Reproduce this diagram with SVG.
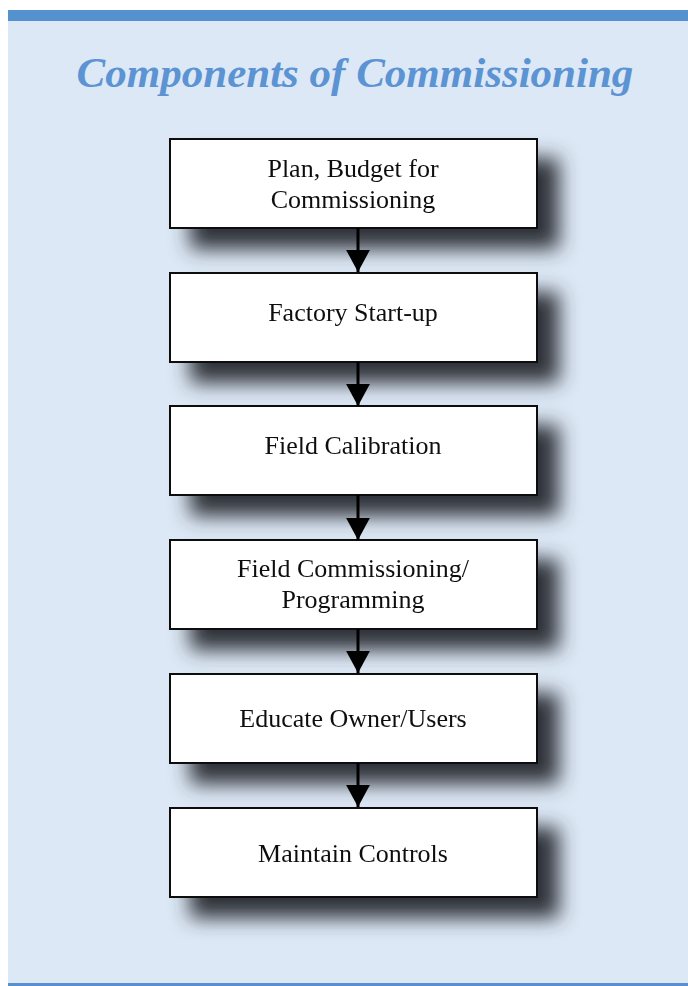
<svg xmlns="http://www.w3.org/2000/svg" width="688" height="986" viewBox="0 0 688 986">
  <style>
    .box { fill: #ffffff; stroke: #111111; stroke-width: 2; }
    .lbl { font-family: "Liberation Serif", "DejaVu Serif", serif; font-size: 26px; fill: #111111; text-anchor: middle; }
    .title { font-family: "Liberation Serif", "DejaVu Serif", serif; font-style: italic; font-weight: bold; font-size: 43px; fill: #5b93d3; text-anchor: middle; }
    .conn { stroke: #000000; stroke-width: 3; fill: none; }
  </style>
  <defs>
    <filter id="drop" x="-20%" y="-40%" width="150%" height="210%">
      <feGaussianBlur in="SourceAlpha" stdDeviation="10"/>
      <feOffset dx="21" dy="20" result="b"/>
      <feFlood flood-color="#30333a" flood-opacity="1"/>
      <feComposite in2="b" operator="in"/>
      <feMerge><feMergeNode/><feMergeNode in="SourceGraphic"/></feMerge>
    </filter>
    <marker id="head" markerWidth="8" markerHeight="8" refX="7.4" refY="4" orient="auto" markerUnits="strokeWidth">
      <path d="M0,0 L7.4,4 L0,8 Z" fill="#000000"/>
    </marker>
  </defs>

  <!-- page panel -->
  <rect x="0" y="0" width="688" height="986" fill="#ffffff"/>
  <rect x="8" y="10" width="680" height="976" fill="#dce8f5"/>
  <rect x="8" y="10" width="680" height="11" fill="#5590cf"/>
  <rect x="8" y="983" width="680" height="3" fill="#5590cf"/>

  <text class="title" x="355" y="87">Components of Commissioning</text>

  <g id="n1" filter="url(#drop)">
    <rect class="box" x="170" y="139" width="367" height="89"/>
    <text class="lbl" x="353" y="177">Plan, Budget for</text>
    <text class="lbl" x="353" y="208">Commissioning</text>
  </g>
  <g id="n2" filter="url(#drop)">
    <rect class="box" x="170" y="273" width="367" height="89"/>
    <text class="lbl" x="353" y="321">Factory Start-up</text>
  </g>
  <g id="n3" filter="url(#drop)">
    <rect class="box" x="170" y="406" width="367" height="89"/>
    <text class="lbl" x="353" y="454">Field Calibration</text>
  </g>
  <g id="n4" filter="url(#drop)">
    <rect class="box" x="170" y="540" width="367" height="89"/>
    <text class="lbl" x="353" y="577">Field Commissioning/</text>
    <text class="lbl" x="353" y="608">Programming</text>
  </g>
  <g id="n5" filter="url(#drop)">
    <rect class="box" x="170" y="674" width="367" height="89"/>
    <text class="lbl" x="353" y="727">Educate Owner/Users</text>
  </g>
  <g id="n6" filter="url(#drop)">
    <rect class="box" x="170" y="808" width="367" height="89"/>
    <text class="lbl" x="353" y="862">Maintain Controls</text>
  </g>

  <!-- connectors, drawn over the drop shadows -->
  <g id="connectors">
    <line class="conn" x1="358" y1="228" x2="358" y2="272" marker-end="url(#head)"/>
    <line class="conn" x1="358" y1="362" x2="358" y2="406" marker-end="url(#head)"/>
    <line class="conn" x1="358" y1="495" x2="358" y2="540" marker-end="url(#head)"/>
    <line class="conn" x1="358" y1="629" x2="358" y2="673" marker-end="url(#head)"/>
    <line class="conn" x1="358" y1="763" x2="358" y2="807" marker-end="url(#head)"/>
  </g>
</svg>
